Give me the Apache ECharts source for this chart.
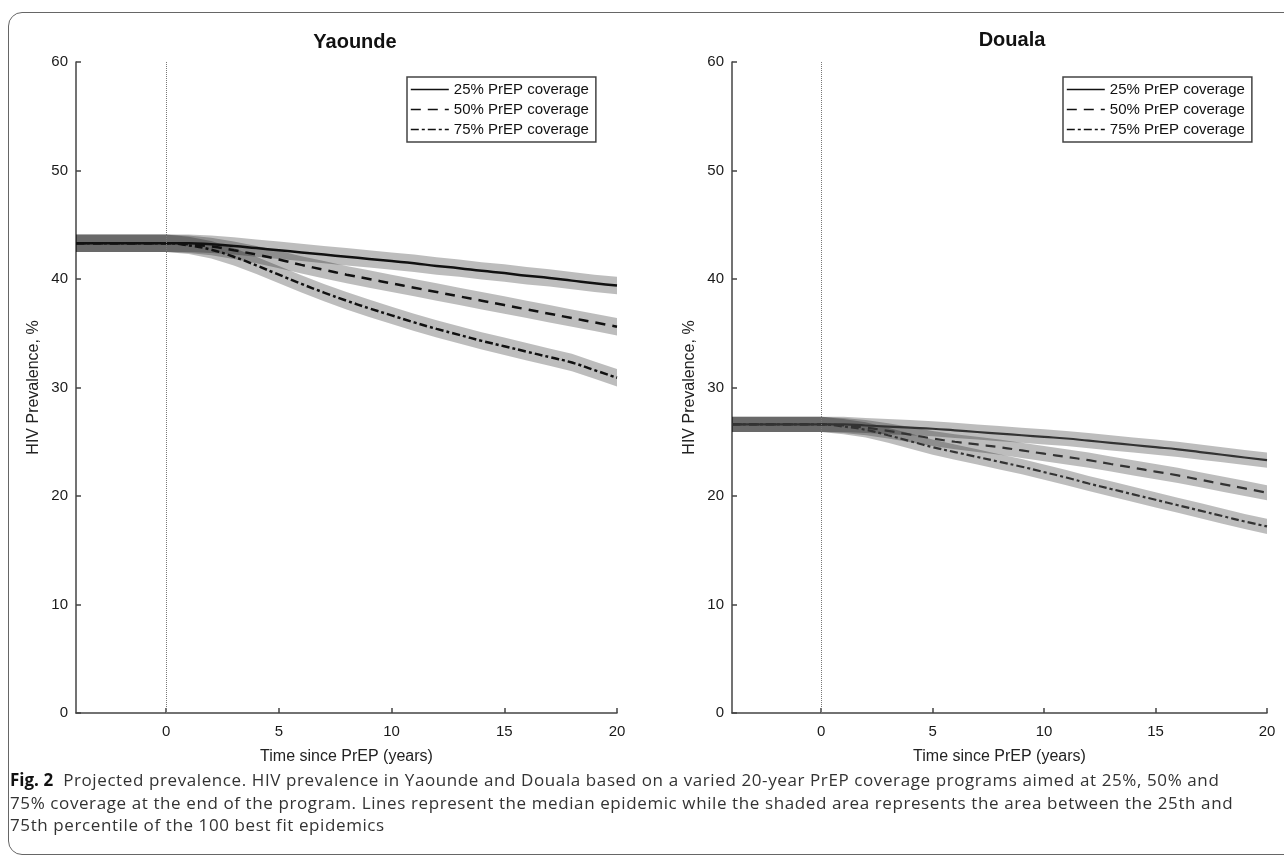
<!DOCTYPE html>
<html>
<head>
<meta charset="utf-8">
<script src="https://cdn.jsdelivr.net/npm/echarts@6/dist/echarts.min.js"></script>
<style>
  html, body { margin: 0; padding: 0; background: #fff; }
  #wrap { position: relative; width: 1284px; height: 860px; overflow: hidden; }
  #frame {
    position: absolute; left: 8px; top: 12px; width: 1320px; height: 843px;
    border: 1.5px solid #666; border-radius: 14px; box-sizing: border-box;
  }
  #chart { position: absolute; left: 0; top: 0; width: 1284px; height: 770px; }
  #caption {
    position: absolute; left: 10px; top: 769px; width: 1270px;
    font-family: "Open Sans", "Noto Sans", sans-serif; font-size: 17px;
    letter-spacing: 0.6px; line-height: 22.5px; color: #333; white-space: nowrap;
  }
  #caption b { color: #111; font-weight: 700; letter-spacing: 0; }
</style>
</head>
<body>
<div id="wrap">
  <div id="frame"></div>
  <div id="chart"></div>
  <div id="caption">
    <b>Fig. 2</b>&nbsp;&nbsp;Projected prevalence. HIV prevalence in Yaounde and Douala based on a varied 20-year PrEP coverage programs aimed at 25%, 50% and<br>
    75% coverage at the end of the program. Lines represent the median epidemic while the shaded area represents the area between the 25th and<br>
    75th percentile of the 100 best fit epidemics
  </div>
</div>
<script>
  // years since PrEP start
  const years = [-4, 0, 1, 2, 3, 4, 5, 6, 7, 8, 9, 10, 11, 12, 13, 14, 15, 16, 17, 18, 19, 20]
  const xTicks = [0, 5, 10, 15, 20]
  const names = ['25% PrEP coverage', '50% PrEP coverage', '75% PrEP coverage']

  // Yaounde medians and 25th / 75th percentiles
  const yao25 = [43.3, 43.3, 43.3, 43.2, 43.05, 42.85, 42.65, 42.45, 42.25, 42.05, 41.85, 41.65, 41.45, 41.2, 41.0, 40.75, 40.55, 40.3, 40.1, 39.85, 39.6, 39.4]
  const yao25lo = [42.5, 42.5, 42.5, 42.4, 42.25, 42.05, 41.85, 41.65, 41.45, 41.25, 41.05, 40.85, 40.65, 40.4, 40.2, 39.95, 39.75, 39.5, 39.3, 39.05, 38.8, 38.6]
  const yao25hi = [44.1, 44.1, 44.1, 44.0, 43.85, 43.65, 43.45, 43.25, 43.05, 42.85, 42.65, 42.45, 42.25, 42.0, 41.8, 41.55, 41.35, 41.1, 40.9, 40.65, 40.4, 40.2]
  const yao50 = [43.3, 43.3, 43.2, 43.0, 42.65, 42.25, 41.8, 41.3, 40.85, 40.4, 40.0, 39.6, 39.2, 38.8, 38.4, 38.0, 37.6, 37.2, 36.8, 36.4, 36.0, 35.6]
  const yao50lo = [42.5, 42.5, 42.4, 42.2, 41.85, 41.45, 41.0, 40.5, 40.05, 39.6, 39.2, 38.8, 38.4, 38.0, 37.6, 37.2, 36.8, 36.4, 36.0, 35.6, 35.2, 34.8]
  const yao50hi = [44.1, 44.1, 44.0, 43.8, 43.45, 43.05, 42.6, 42.1, 41.65, 41.2, 40.8, 40.4, 40.0, 39.6, 39.2, 38.8, 38.4, 38.0, 37.6, 37.2, 36.8, 36.4]
  const yao75 = [43.3, 43.3, 43.1, 42.7, 42.05, 41.25, 40.4, 39.55, 38.75, 38.0, 37.3, 36.65, 36.0, 35.4, 34.85, 34.3, 33.8, 33.3, 32.8, 32.3, 31.6, 30.9]
  const yao75lo = [42.5, 42.5, 42.3, 41.9, 41.25, 40.45, 39.6, 38.75, 37.95, 37.2, 36.5, 35.85, 35.2, 34.6, 34.05, 33.5, 33.0, 32.5, 32.0, 31.5, 30.8, 30.1]
  const yao75hi = [44.1, 44.1, 43.9, 43.5, 42.85, 42.05, 41.2, 40.35, 39.55, 38.8, 38.1, 37.45, 36.8, 36.2, 35.65, 35.1, 34.6, 34.1, 33.6, 33.1, 32.4, 31.7]

  // Douala medians and 25th / 75th percentiles
  const dou25 = [26.6, 26.6, 26.6, 26.5, 26.4, 26.3, 26.2, 26.05, 25.9, 25.75, 25.6, 25.45, 25.3, 25.1, 24.9, 24.7, 24.5, 24.3, 24.05, 23.8, 23.55, 23.3]
  const dou25lo = [25.9, 25.9, 25.9, 25.8, 25.7, 25.6, 25.5, 25.35, 25.2, 25.05, 24.9, 24.75, 24.6, 24.4, 24.2, 24.0, 23.8, 23.6, 23.35, 23.1, 22.85, 22.6]
  const dou25hi = [27.3, 27.3, 27.3, 27.2, 27.1, 27.0, 26.9, 26.75, 26.6, 26.45, 26.3, 26.15, 26.0, 25.8, 25.6, 25.4, 25.2, 25.0, 24.75, 24.5, 24.25, 24.0]
  const dou50 = [26.6, 26.6, 26.5, 26.3, 26.0, 25.65, 25.3, 25.0, 24.75, 24.5, 24.2, 23.9, 23.6, 23.3, 22.95, 22.6, 22.25, 21.9, 21.5, 21.1, 20.7, 20.3]
  const dou50lo = [25.9, 25.9, 25.8, 25.6, 25.3, 24.95, 24.6, 24.3, 24.05, 23.8, 23.5, 23.2, 22.9, 22.6, 22.25, 21.9, 21.55, 21.2, 20.8, 20.4, 20.0, 19.6]
  const dou50hi = [27.3, 27.3, 27.2, 27.0, 26.7, 26.35, 26.0, 25.7, 25.45, 25.2, 24.9, 24.6, 24.3, 24.0, 23.65, 23.3, 22.95, 22.6, 22.2, 21.8, 21.4, 21.0]
  const dou75 = [26.6, 26.6, 26.4, 26.1, 25.6, 25.05, 24.5, 24.05, 23.6, 23.15, 22.7, 22.2, 21.7, 21.15, 20.65, 20.15, 19.65, 19.15, 18.65, 18.15, 17.65, 17.2]
  const dou75lo = [25.9, 25.9, 25.7, 25.4, 24.9, 24.35, 23.8, 23.35, 22.9, 22.45, 22.0, 21.5, 21.0, 20.45, 19.95, 19.45, 18.95, 18.45, 17.95, 17.45, 16.95, 16.5]
  const dou75hi = [27.3, 27.3, 27.1, 26.8, 26.3, 25.75, 25.2, 24.75, 24.3, 23.85, 23.4, 22.9, 22.4, 21.85, 21.35, 20.85, 20.35, 19.85, 19.35, 18.85, 18.35, 17.9]

  const FONT = '"Liberation Sans", Arial, sans-serif'
  const dashTypes = ['solid', [10, 7], [8, 3, 3, 3]]

  function pairs(ys) {
    return years.map((x, i) => [x, ys[i]])
  }

  // shaded percentile band as one polygon
  function band(lo, hi, g) {
    return {
      type: 'custom',
      xAxisIndex: g, yAxisIndex: g,
      silent: true,
      z: 1,
      data: [[years[0], lo[0]]],
      renderItem: function (params, api) {
        const pts = []
        for (let i = 0; i < years.length; i++) pts.push(api.coord([years[i], hi[i]]))
        for (let i = years.length - 1; i >= 0; i--) pts.push(api.coord([years[i], lo[i]]))
        return { type: 'polygon', shape: { points: pts }, style: { fill: 'rgba(0,0,0,0.26)' } }
      }
    }
  }

  function median(name, ys, k, g, color, width) {
    return {
      type: 'line', name: name,
      xAxisIndex: g, yAxisIndex: g,
      data: pairs(ys),
      symbol: 'none', smooth: 0.5,
      z: 3,
      lineStyle: { color: color, width: width, type: dashTypes[k] },
      itemStyle: { color: color }
    }
  }

  // dotted marker at the start of PrEP
  function zeroLine(g) {
    return {
      type: 'line', xAxisIndex: g, yAxisIndex: g, data: [], silent: true, z: 2,
      markLine: {
        silent: true, symbol: ['none', 'none'], label: { show: false },
        lineStyle: { color: '#777', type: 'dotted', width: 1 },
        data: [{ xAxis: 0 }]
      }
    }
  }

  function xAxis(g) {
    return {
      type: 'value', gridIndex: g, min: -4, max: 20,
      name: 'Time since PrEP (years)', nameLocation: 'middle', nameGap: 36,
      nameTextStyle: { fontSize: 16, color: '#222', fontFamily: FONT },
      axisLine: { show: true, onZero: false, lineStyle: { color: '#444', width: 1.5 } },
      axisTick: { show: true, inside: true, length: 5, customValues: xTicks, lineStyle: { color: '#444', width: 1.5 } },
      axisLabel: { customValues: xTicks, fontSize: 15, color: '#1a1a1a', margin: 11, fontFamily: FONT },
      splitLine: { show: false }
    }
  }

  function yAxis(g) {
    return {
      type: 'value', gridIndex: g, min: 0, max: 60, interval: 10,
      name: 'HIV Prevalence, %', nameLocation: 'middle', nameGap: 34,
      nameTextStyle: { fontSize: 16, color: '#222', fontFamily: FONT },
      axisLine: { show: true, onZero: false, lineStyle: { color: '#444', width: 1.5 } },
      axisTick: { show: true, inside: true, length: 5, lineStyle: { color: '#444', width: 1.5 } },
      axisLabel: { fontSize: 15, color: '#1a1a1a', margin: 8, fontFamily: FONT },
      splitLine: { show: false }
    }
  }

  function legend(left) {
    return {
      data: names, left: left, top: 77, orient: 'vertical',
      backgroundColor: '#fff', borderColor: '#444', borderWidth: 1.5,
      padding: [5, 7, 5, 3], itemGap: 5, itemWidth: 38, itemHeight: 14,
      selectedMode: false,
      itemStyle: { opacity: 0 },
      lineStyle: { width: 1.6 },
      textStyle: { fontSize: 15, color: '#111', fontFamily: FONT }
    }
  }

  let chart = echarts.init(document.getElementById('chart'))
  chart.setOption({
    animation: false,
    title: [
      { text: 'Yaounde', left: 350, top: 27, textAlign: 'center', textStyle: { fontSize: 20, fontWeight: 'bold', color: '#111', fontFamily: FONT } },
      { text: 'Douala', left: 1007, top: 25, textAlign: 'center', textStyle: { fontSize: 20, fontWeight: 'bold', color: '#111', fontFamily: FONT } }
    ],
    grid: [
      { left: 76, top: 62, width: 541, height: 651 },
      { left: 732, top: 62, width: 535, height: 651 }
    ],
    xAxis: [xAxis(0), xAxis(1)],
    yAxis: [yAxis(0), yAxis(1)],
    legend: [legend(407), legend(1063)],
    series: [
      zeroLine(0),
      zeroLine(1),
      band(yao25lo, yao25hi, 0),
      band(yao50lo, yao50hi, 0),
      band(yao75lo, yao75hi, 0),
      median(names[0], yao25, 0, 0, '#111', 2.5),
      median(names[1], yao50, 1, 0, '#111', 2.5),
      median(names[2], yao75, 2, 0, '#111', 2.5),
      band(dou25lo, dou25hi, 1),
      band(dou50lo, dou50hi, 1),
      band(dou75lo, dou75hi, 1),
      median(names[0], dou25, 0, 1, '#333', 2.2),
      median(names[1], dou50, 1, 1, '#333', 2.2),
      median(names[2], dou75, 2, 1, '#333', 2.2)
    ]
  })
  window.onresize = function () {
    chart.resize()
  }
</script>
</body>
</html>
